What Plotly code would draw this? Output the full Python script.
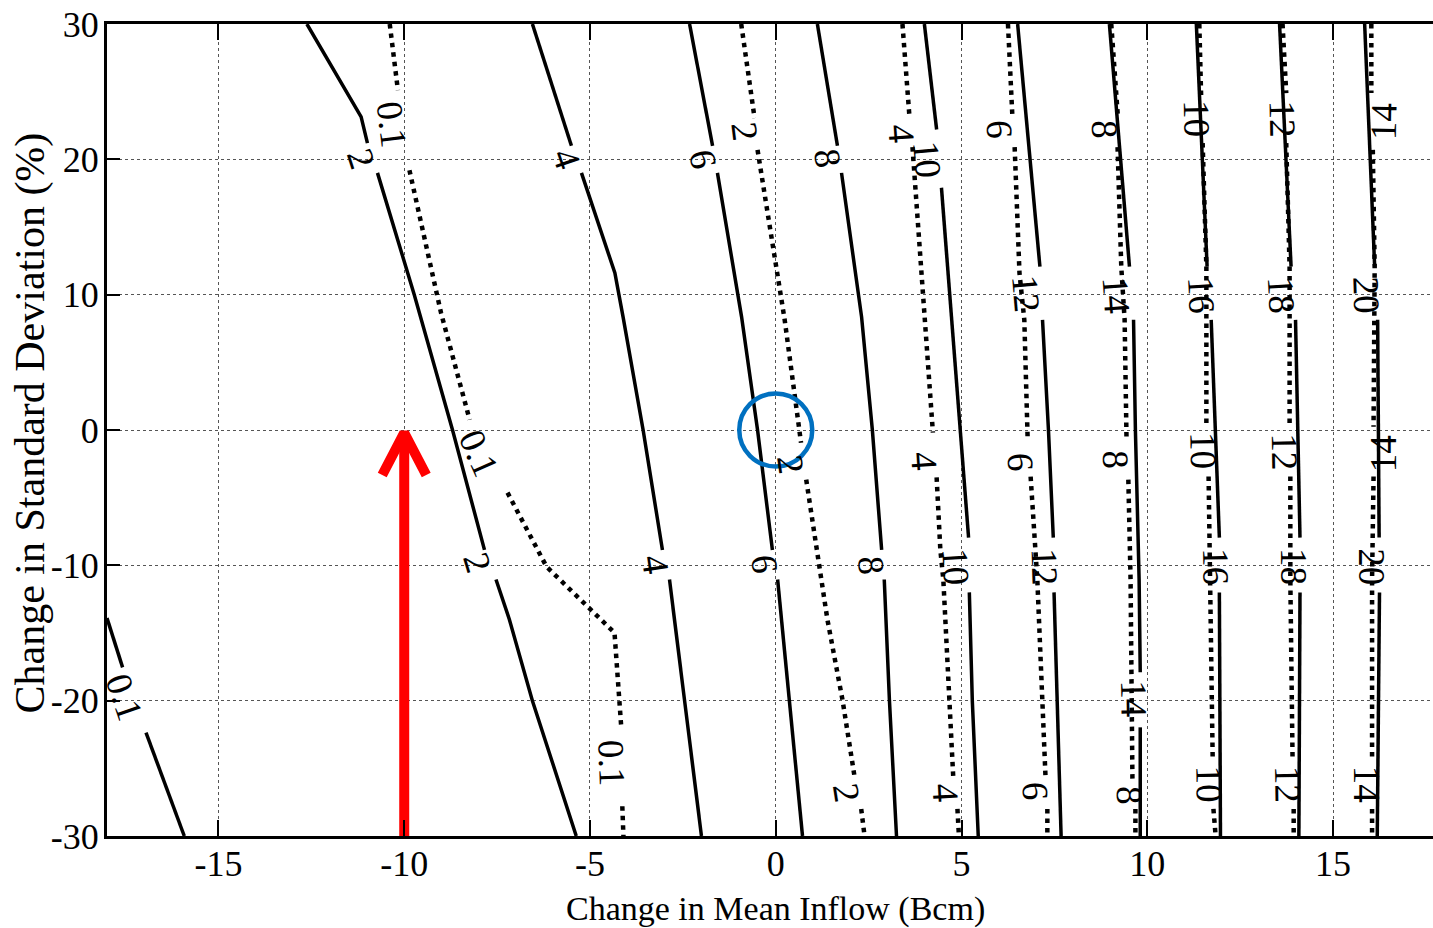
import math
import plotly.graph_objects as go

FONT = "Liberation Serif"

# ---------------- axes ----------------
X_MIN, X_MAX = -18.0, 17.69
Y_MIN, Y_MAX = -30.0, 30.0
X_TICKS = [-15, -10, -5, 0, 5, 10, 15]
X_TICK_TEXT = ["-15", "-10", "-5", "0", "5", "10", "15"]
Y_TICKS = [-30, -20, -10, 0, 10, 20, 30]
Y_TICK_TEXT = ["-30", "-20", "-10", "0", "10", "20", "30"]
X_TITLE = "Change in Mean Inflow (Bcm)"
Y_TITLE = "Change in Standard Deviation (%)"

# ---------------- solid contours (segments of (x, y)) ----------------
SOLID_0_1 = [[(-18.0, -13.9), (-17.58, -17.54)],
             [(-16.95, -22.36), (-15.92, -30.0)]]
SOLID_2 = [[(-12.62, 30.0), (-11.16, 23.14), (-10.99, 21.2)],
           [(-10.72, 19.0), (-9.73, 10.0), (-8.70, 0.0), (-7.84, -8.86)],
           [(-7.53, -11.05), (-7.17, -14.0), (-6.55, -20.0), (-5.37, -30.0)]]
SOLID_4 = [[(-6.55, 30.0), (-5.50, 21.0)],
           [(-5.23, 19.0), (-4.33, 11.6), (-4.11, 8.36), (-3.57, 0.0), (-3.05, -8.86)],
           [(-2.86, -11.05), (-2.46, -20.0), (-2.0, -30.0)]]
SOLID_6 = [[(-2.32, 30.0), (-1.70, 21.0)],
           [(-1.57, 19.0), (-0.92, 8.36), (-0.49, 0.0), (-0.09, -8.86)],
           [(0.05, -11.05), (0.37, -20.0), (0.72, -30.0)]]
SOLID_8 = [[(1.12, 30.0), (1.66, 21.0)],
           [(1.77, 19.0), (2.31, 8.36), (2.60, 0.0), (2.85, -8.86)],
           [(2.92, -11.05), (3.06, -20.0), (3.25, -30.0)]]
SOLID_10 = [[(4.0, 30.0), (4.33, 22.2)],
            [(4.46, 17.9), (4.73, 8.14), (4.97, 0.0), (5.19, -7.95)],
            [(5.21, -12.0), (5.29, -20.0), (5.45, -30.0)]]
SOLID_12 = [[(6.51, 30.0), (7.11, 12.07)],
            [(7.18, 8.14), (7.34, 0.0), (7.47, -7.95)],
            [(7.49, -12.0), (7.58, -20.0), (7.68, -30.0)]]
SOLID_14 = [[(8.98, 30.0), (9.52, 12.07)],
            [(9.63, 8.14), (9.68, 0.0), (9.78, -11.05), (9.81, -17.9)],
            [(9.81, -21.97), (9.81, -30.0)]]
SOLID_16 = [[(11.32, 30.0), (11.61, 12.07)],
            [(11.72, 8.14), (11.94, -7.95)],
            [(11.94, -12.0), (11.97, -30.0)]]
SOLID_18 = [[(13.56, 30.0), (13.87, 12.07)],
            [(13.99, 8.14), (14.11, -7.95)],
            [(14.11, -12.0), (14.08, -30.0)]]
SOLID_20 = [[(15.85, 30.0), (16.12, 12.07)],
            [(16.2, 8.14), (16.24, -7.95)],
            [(16.25, -12.0), (16.19, -30.0)]]

# (text, x, y, angle)
SOLID_LABELS = [
    ("0.1", -17.53, -19.76, 71),
    ("2", -11.16, 20.06, 72), ("2", -8.03, -9.8, 73),
    ("4", -5.62, 20.0, 71), ("4", -3.24, -9.94, 82),
    ("6", -1.95, 20.0, 79), ("6", -0.30, -9.94, 84),
    ("8", 1.38, 20.1, 81), ("8", 2.57, -10.0, 86),
    ("10", 4.08, 20.0, 85), ("10", 4.84, -10.1, 87),
    ("12", 6.74, 10.1, 85), ("12", 7.23, -10.1, 88),
    ("14", 9.16, 10.0, 86), ("14", 9.64, -19.9, 89),
    ("16", 11.45, 10.0, 87), ("16", 11.84, -10.1, 89),
    ("18", 13.6, 10.0, 87), ("18", 13.94, -10.1, 90),
    ("20", 15.89, 10.0, 88), ("20", 16.03, -10.1, 90),
]

# ---------------- dotted contours ----------------
DOTTED_0_1 = [[(-10.39, 30.0), (-10.17, 25.1)],
              [(-9.86, 19.2), (-9.01, 8.66), (-8.24, 0.76)],
              [(-7.22, -4.63), (-6.17, -10.1), (-4.34, -14.98), (-4.21, -19.9), (-4.16, -21.9)],
              [(-4.13, -27.8), (-4.1, -30.0)]]
DOTTED_2 = [[(-0.93, 30.0), (-0.57, 23.05)],
            [(-0.49, 20.7), (0.24, 8.14), (0.68, -0.94)],
            [(0.82, -3.67), (1.39, -14.0), (1.80, -20.0), (2.12, -25.6)],
            [(2.30, -28.0), (2.39, -30.0)]]
DOTTED_4 = [[(3.41, 30.0), (3.60, 23.1)],
            [(3.68, 20.9), (4.0, 8.36), (4.23, -0.2)],
            [(4.33, -3.5), (4.43, -8.86), (4.51, -11.05), (4.78, -25.8)],
            [(4.89, -28.0), (4.93, -30.0)]]
DOTTED_6 = [[(6.25, 30.0), (6.37, 23.1)],
            [(6.43, 20.9), (6.56, 11.6), (6.69, 8.14), (6.78, -0.7)],
            [(6.86, -3.44), (6.99, -8.86), (7.04, -11.05), (7.26, -25.6)],
            [(7.31, -28.0), (7.31, -30.0)]]
DOTTED_8 = [[(9.03, 30.0), (9.21, 23.1)],
            [(9.2, 20.9), (9.3, 12.05), (9.39, 8.14), (9.44, -0.5)],
            [(9.49, -3.67), (9.55, -11.05), (9.6, -25.8)],
            [(9.68, -28.0), (9.68, -30.0)]]
DOTTED_10 = [[(11.4, 30.0), (11.45, 24.6)],
             [(11.49, 21.2), (11.59, 12.07), (11.59, 0.24)],
             [(11.65, -3.44), (11.70, -11.05), (11.76, -24.3)],
             [(11.78, -28.0), (11.84, -30.0)]]
DOTTED_12 = [[(13.64, 30.0), (13.74, 24.9)],
             [(13.74, 21.2), (13.83, 12.07), (13.83, 0.24)],
             [(13.85, -3.44), (13.85, -11.05), (13.91, -24.3)],
             [(13.94, -28.0), (13.94, -30.0)]]
DOTTED_14 = [[(16.03, 30.0), (16.03, 24.9)],
             [(16.07, 20.7), (16.12, 12.07), (16.09, 0.24)],
             [(16.09, -3.44), (16.05, -11.05), (16.05, -24.3)],
             [(16.05, -28.0), (16.05, -30.0)]]

DOTTED_LABELS = [
    ("0.1", -10.33, 22.6, 83), ("0.1", -7.98, -1.71, 66), ("0.1", -4.43, -24.6, 88),
    ("2", -0.84, 22.04, 83), ("2", 0.41, -2.6, 82), ("2", 1.9, -26.8, 81),
    ("4", 3.38, 21.9, 86), ("4", 4.0, -2.3, 86), ("4", 4.56, -26.8, 87),
    ("6", 6.02, 22.2, 87), ("6", 6.59, -2.4, 87), ("6", 6.99, -26.7, 88),
    ("8", 8.85, 22.2, 88), ("8", 9.14, -2.2, 88), ("8", 9.52, -27.0, 89),
    ("10", 11.34, 23.05, 89), ("10", 11.51, -1.5, 89), ("10", 11.66, -26.2, 89),
    ("12", 13.63, 23.0, 89), ("12", 13.69, -1.6, 89), ("12", 13.78, -26.2, 89),
    ("14", 16.36, 22.8, -89), ("14", 16.36, -1.75, -90), ("14", 15.91, -26.2, 90),
]

SOLID_CONTOURS = [SOLID_0_1, SOLID_2, SOLID_4, SOLID_6, SOLID_8, SOLID_10,
                  SOLID_12, SOLID_14, SOLID_16, SOLID_18, SOLID_20]
DOTTED_CONTOURS = [DOTTED_0_1, DOTTED_2, DOTTED_4, DOTTED_6, DOTTED_8,
                   DOTTED_10, DOTTED_12, DOTTED_14]

# ---------------- highlights ----------------
ARROW_X = -10.0
ARROW_Y = [-30.0, 0.0]
CIRCLE_CENTER = (0.0, 0.0)

# ---------------- layout geometry ----------------
W, H = 1433, 928
M_L, M_R, M_T, M_B = 107, 0, 24, 92
PX_X = (W - M_L - M_R) / (X_MAX - X_MIN)
PX_Y = (H - M_T - M_B) / (Y_MAX - Y_MIN)


def flatten(segments):
    xs, ys = [], []
    for seg in segments:
        for x, y in seg:
            xs.append(x)
            ys.append(y)
        xs.append(None)
        ys.append(None)
    return xs, ys


fig = go.Figure()

for c in SOLID_CONTOURS:
    xs, ys = flatten(c)
    fig.add_trace(go.Scatter(x=xs, y=ys, mode="lines", hoverinfo="skip",
                             line=dict(color="black", width=3.5)))
for c in DOTTED_CONTOURS:
    xs, ys = flatten(c)
    fig.add_trace(go.Scatter(x=xs, y=ys, mode="lines", hoverinfo="skip",
                             line=dict(color="black", width=4.5, dash="4.5px,5px")))

# red arrow
hx = 22 / PX_X
hy = 45 / PX_Y
fig.add_trace(go.Scatter(x=[ARROW_X, ARROW_X], y=[ARROW_Y[0], ARROW_Y[1] - 0.2],
                         mode="lines", hoverinfo="skip",
                         line=dict(color="#FF0000", width=10)))
fig.add_trace(go.Scatter(x=[ARROW_X - hx, ARROW_X, ARROW_X + hx],
                         y=[ARROW_Y[1] - hy, ARROW_Y[1] - 0.2, ARROW_Y[1] - hy],
                         mode="lines", hoverinfo="skip",
                         line=dict(color="#FF0000", width=10)))

annotations = []
for text, x, y, ang in SOLID_LABELS + DOTTED_LABELS:
    annotations.append(dict(x=x, y=y, xref="x", yref="y", text=text, showarrow=False,
                            textangle=ang, xanchor="center", yanchor="middle",
                            font=dict(family=FONT, size=37, color="black")))

annotations.append(dict(x=0.0, xref="x", y=-0.09, yref="paper", text=X_TITLE,
                        showarrow=False, xanchor="center", yanchor="middle",
                        font=dict(family=FONT, size=34, color="black")))
annotations.append(dict(x=(31 - M_L) / (W - M_L - M_R), xref="paper", y=0.508, yref="paper",
                        text=Y_TITLE, textangle=-90, showarrow=False,
                        xanchor="center", yanchor="middle",
                        font=dict(family=FONT, size=42, color="black")))

r_px = 36.5
cx, cy = CIRCLE_CENTER
shapes = [dict(type="circle", xref="x", yref="y",
               x0=cx - r_px / PX_X, x1=cx + r_px / PX_X,
               y0=cy - r_px / PX_Y, y1=cy + r_px / PX_Y,
               line=dict(color="#0070C0", width=4.5), layer="above")]

axis_common = dict(showline=True, linecolor="black", linewidth=3,
                   ticks="inside", tickcolor="black", tickwidth=2,
                   showgrid=True, gridcolor="#555555", gridwidth=1, griddash="dot",
                   zeroline=False, tickfont=dict(family=FONT, size=36, color="black"))

fig.update_xaxes(range=[X_MIN, X_MAX], tickvals=X_TICKS, ticktext=X_TICK_TEXT,
                 ticklen=16, mirror="ticks", ticklabelstandoff=-6, **axis_common)
fig.update_yaxes(range=[Y_MIN, Y_MAX], tickvals=Y_TICKS, ticktext=Y_TICK_TEXT,
                 ticklen=13, mirror=False, ticklabelstandoff=-2, **axis_common)

fig.update_layout(width=W, height=H,
                  margin=dict(l=M_L, r=M_R, t=M_T, b=M_B),
                  paper_bgcolor="white", plot_bgcolor="white",
                  showlegend=False, annotations=annotations, shapes=shapes)

fig.write_html("out.html")
